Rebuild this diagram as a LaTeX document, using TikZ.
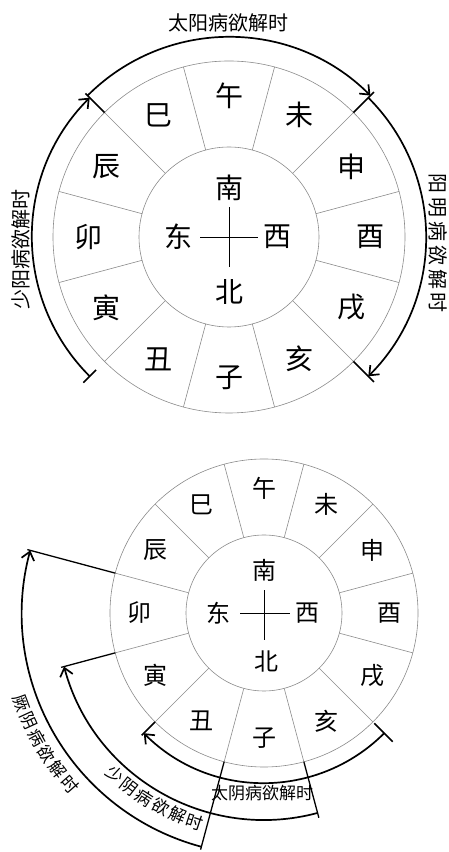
\documentclass[tikz,border=0pt]{standalone}
\usepackage{fontspec}
\newfontfamily\cjk{Noto Sans CJK SC}
\usetikzlibrary{arrows.meta}
\begin{document}
\begin{tikzpicture}[x=1pt,y=1pt,
  every node/.style={inner sep=0pt, outer sep=0pt},
  ring/.style={draw=black!45, line width=0.6pt},
  cross/.style={draw=black, line width=0.7pt},
  tick/.style={draw=black, line width=1.6pt},
  bigarc/.style={draw=black, line width=1.7pt, -{Straight Barb[length=8pt,width=13pt]}},
  ringA/.style={font=\cjk\fontsize{28}{28}\selectfont},
  ringB/.style={font=\cjk\fontsize{24}{24}\selectfont},
  labA/.style={font=\cjk\fontsize{20}{20}\selectfont},
  labB/.style={font=\cjk\fontsize{17}{17}\selectfont}]
\fill[white] (0,0) rectangle (448,852);
\useasboundingbox (0,0) rectangle (448,852);

% ---------------- top diagram ----------------
\begin{scope}[shift={(229,615)}]
  \draw[ring] (0,0) circle (90pt);
  \draw[ring] (0,0) circle (176pt);
  \foreach \a in {15,45,...,345} \draw[ring] (\a:90pt) -- (\a:176pt);
  \foreach \a/\t [count=\i] in {270/子,240/丑,210/寅,180/卯,150/辰,120/巳,90/午,60/未,30/申,0/酉,-30/戌,-60/亥}
    \node[ringA] (ta\i) at (\a:141pt) {\t};
  \node[ringA] (tn) at (0,49) {南};
  \node[ringA] (ts) at (0,-55) {北};
  \node[ringA] (te) at (-51,0) {东};
  \node[ringA] (tw) at (48,0) {西};
  \draw[cross] (-29,0) -- (29,0);
  \draw[cross] (0,-30) -- (0,30);
  % ticks
  \draw[tick] (135:176pt) -- (135:203pt);
  \draw[tick] (45:176pt) -- (45:205pt);
  \draw[tick] (-45:176pt) -- (-45:205pt);
  \draw[tick] (225:188pt) -- (225:206pt);
  % arcs
  \draw[bigarc] (135:200pt) arc[start angle=135, end angle=45, radius=200pt];
  \draw[bigarc] (45:197pt) arc[start angle=45, end angle=-45, radius=197pt];
  \draw[bigarc] (225:197pt) arc[start angle=225, end angle=135, radius=197pt];
\end{scope}
\node[labA] (taiyang) at (228,829) {太阳病欲解时};
\node[labA, rotate=90] (shaoyang) at (21,602) {少阳病欲解时};
\foreach \c [count=\i from 0] in {阳,明,病,欲,解,时}
  \node[labA, rotate=-90] (ym\i) at (438,{668-23.8*\i}) {\c};

% ---------------- bottom diagram ----------------
\begin{scope}[shift={(264,239)}]
  \draw[ring] (0,0) circle (78pt);
  \draw[ring] (0,0) circle (154pt);
  \foreach \a in {15,45,...,345} \draw[ring] (\a:78pt) -- (\a:154pt);
  \foreach \a/\t [count=\i] in {270/子,240/丑,210/寅,180/卯,150/辰,120/巳,90/午,60/未,30/申,0/酉,-30/戌,-60/亥}
    \node[ringB] (ba\i) at (\a:125pt) {\t};
  \node[ringB] (bn) at (0,43) {南};
  \node[ringB] (bs) at (2,-48) {北};
  \node[ringB] (be) at (-46,0) {东};
  \node[ringB] (bw) at (43,0) {西};
  \draw[cross] (-24,0) -- (26,0);
  \draw[cross] (0,-27) -- (0,23);
  % radial extension lines and ticks
  \draw[tick] (-45:156pt) -- (-45:182pt);
  \draw[tick] (-135:154pt) -- (-135:173pt);
  \draw[tick, line width=1.3pt] (-75:154pt) -- (-75:212pt);
  \draw[tick, line width=1.3pt] (-165:154pt) -- (-165:210pt);
  \draw[tick, line width=1.3pt] (-105:154pt) -- (-105:245pt);
  \draw[tick, line width=1.3pt] (165:154pt) -- (165:245pt);
  % arcs
  \draw[bigarc] (-45:170pt) arc[start angle=-45, end angle=-135, radius=170pt];
  \draw[bigarc] (-75:207pt) arc[start angle=-75, end angle=-165, radius=207pt];
  \draw[bigarc] (-105:242pt) arc[start angle=-105, end angle=-195, radius=242pt];
  % curved labels, one character at a time
  \foreach \c [count=\i from 0] in {少,阴,病,欲,解,时}
    {\pgfmathsetmacro\ang{227.4+4.86*\i}
     \node[labB, rotate=\ang+90] (sy\i) at (\ang:220pt) {\c};}
  \foreach \c [count=\i from 0] in {厥,阴,病,欲,解,时}
    {\pgfmathsetmacro\ang{200.4+4.2*\i}
     \node[labB, rotate=\ang+90] (jy\i) at (\ang:259pt) {\c};}
\end{scope}
\node[labB] (taiyin) at (262,59) {太阴病欲解时};
\end{tikzpicture}
\end{document}
